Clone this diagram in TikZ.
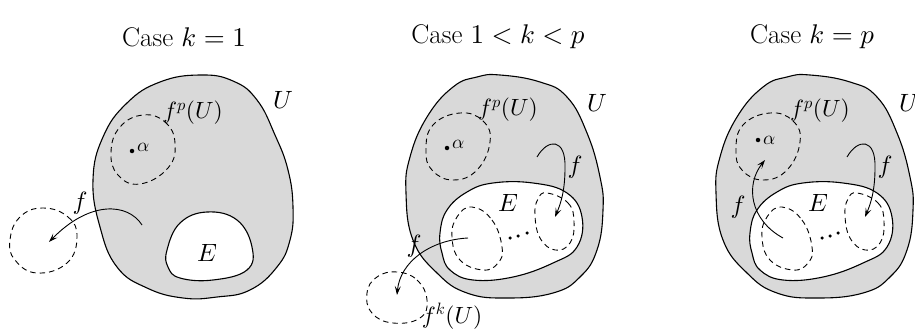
\documentclass[tikz,border=0pt]{standalone}
\usetikzlibrary{arrows.meta}
\DeclareFontShape{OML}{cmm}{m}{it}{<->cmmi10}{}
\DeclareFontShape{OT1}{cmr}{m}{n}{<->cmr10}{}
\DeclareFontShape{OMS}{cmsy}{m}{n}{<->cmsy10}{}
\DeclareFontShape{OMX}{cmex}{m}{n}{<->cmex10}{}
\definecolor{ugray}{gray}{0.85}
\begin{document}
\begin{tikzpicture}[x=1pt,y=-1pt,
  region/.style={draw=black, line width=1.1pt, fill=ugray},
  hole/.style={draw=black, line width=1.1pt, fill=white},
  dashset/.style={draw=black, line width=0.9pt, dash pattern=on 5.5pt off 4pt},
  maparrow/.style={line width=0.9pt, -{Stealth[length=9pt,width=6pt,inset=4pt]}},
  lbl/.style={inner sep=0pt, font=\fontsize{25}{29}\selectfont},
  sublbl/.style={inner sep=0pt, font=\fontsize{23.5}{27}\selectfont},
  alphalbl/.style={inner sep=0pt, font=\fontsize{19}{22}\selectfont},
  ttl/.style={inner sep=0pt, font=\fontsize{27}{31}\selectfont},
  pt/.style={circle, fill=black, inner sep=0pt, minimum size=4.5pt},
  smalldot/.style={circle, fill=black, inner sep=0pt, minimum size=3.5pt}]
\useasboundingbox (0,0) rectangle (915,334);

% ---------- titles ----------
\node[ttl] (t1) at (184,37) {Case $k=1$};
\node[ttl] (t2) at (498,37) {Case $1<k<p$};
\node[ttl] (t3) at (812,37) {Case $k=p$};

% ================= Panel 1 =================
\draw[region] plot[smooth cycle, tension=0.75] coordinates {
 (200,75) (233,81) (257,100) (275,135) (288,170) (293,207) (290,240)
 (277,267) (250,290) (217,297) (183,298) (147,288) (117,267) (100,227)
 (93,180) (103,137) (127,103) (160,82)};
\draw[hole] plot[smooth cycle, tension=0.7] coordinates {
 (180,223) (207,212) (237,220) (252,247) (247,270) (213,280) (180,278) (168,267) (167,250)};
\draw[dashset] plot[smooth cycle, tension=0.75] coordinates {
 (143,115) (165,122) (175,143) (168,168) (140,184) (118,175) (111,152) (120,127)};
\draw[dashset] plot[smooth cycle, tension=0.75] coordinates {
 (43,208) (68,217) (77,237) (67,263) (37,273) (15,260) (10,240) (20,217)};
\node[pt] (a1) at (132,151) {};
\node[alphalbl, anchor=west] (al1) at (137,147) {$\alpha$};
\node[sublbl] (fp1) at (193,113) {$f^p(U)$};
\node[lbl] (U1) at (283,100) {$U$};
\node[lbl] (E1) at (207,253) {$E$};
\node[lbl] (f1) at (80,203) {$f$};
\coordinate (s1) at (142,225);
\coordinate (e1) at (49,242);
\draw[maparrow] (s1) .. controls (128,203) and (90,200) .. (e1);

% ================= Panel 2 =================
\draw[region] plot[smooth cycle, tension=0.75] coordinates {
 (500,75) (540,82) (567,97) (587,133) (600,177) (603,210) (597,250)
 (580,277) (553,293) (507,298) (467,293) (437,273) (413,240) (406,193)
 (410,157) (427,117) (453,87) (477,77)};
\draw[hole] plot[smooth cycle, tension=0.7] coordinates {
 (440,233) (447,210) (467,192) (493,183) (533,183) (567,193) (582,217)
 (577,247) (553,263) (513,277) (473,280) (450,270) (442,253)};
\draw[dashset] plot[smooth cycle, tension=0.75] coordinates {
 (460,113) (483,121) (490,142) (477,170) (453,180) (432,170) (426,150) (433,125)};
\draw[dashset] plot[smooth cycle, tension=0.75] coordinates {
 (472,207) (492,220) (502,247) (498,263) (483,270) (460,260) (452,237) (457,217)};
\draw[dashset] plot[smooth cycle, tension=0.75] coordinates {
 (547,193) (568,203) (574,222) (570,243) (555,250) (540,238) (535,215) (538,199)};
\draw[dashset] plot[smooth cycle, tension=0.75] coordinates {
 (397,272) (417,280) (427,300) (420,318) (393,323) (372,313) (367,293) (377,277)};
\node[smalldot] (d21) at (510,238) {};
\node[smalldot] (d22) at (518,236) {};
\node[smalldot] (d23) at (527,233) {};
\node[pt] (a2) at (447,148) {};
\node[alphalbl, anchor=west] (al2) at (452,144) {$\alpha$};
\node[sublbl] (fp2) at (508,110) {$f^p(U)$};
\node[lbl] (U2) at (597,103) {$U$};
\node[lbl] (E2) at (508,203) {$E$};
\node[lbl] (f2r) at (575,167) {$f$};
\node[lbl] (f2l) at (414,246) {$f$};
\node[sublbl] (fk2) at (452,316) {$f^k(U)$};
\coordinate (s2r) at (537,157);
\coordinate (e2r) at (555,217);
\draw[maparrow] (s2r) .. controls (548,138) and (566,138) .. (565,168)
  .. controls (565,190) and (561,203) .. (e2r);
\coordinate (s2l) at (468,238);
\coordinate (e2l) at (397,295);
\draw[maparrow] (s2l) .. controls (430,240) and (400,262) .. (e2l);

% ================= Panel 3 =================
\draw[region] plot[smooth cycle, tension=0.75] coordinates {
 (810,75) (850,82) (877,97) (897,133) (910,177) (913,210) (907,250)
 (890,277) (863,293) (817,298) (777,293) (747,273) (723,240) (716,193)
 (720,157) (737,117) (763,87) (787,77)};
\draw[hole] plot[smooth cycle, tension=0.7] coordinates {
 (750,233) (757,210) (777,192) (803,183) (843,183) (877,193) (892,217)
 (887,247) (863,263) (823,277) (783,280) (760,270) (752,253)};
\draw[dashset] plot[smooth cycle, tension=0.75] coordinates {
 (770,113) (793,121) (800,142) (787,170) (763,180) (742,170) (736,150) (743,125)};
\draw[dashset] plot[smooth cycle, tension=0.75] coordinates {
 (782,207) (802,220) (812,247) (808,263) (793,270) (770,260) (762,237) (767,217)};
\draw[dashset] plot[smooth cycle, tension=0.75] coordinates {
 (857,193) (878,203) (884,222) (880,243) (865,250) (850,238) (845,215) (848,199)};
\node[smalldot] (d31) at (822,238) {};
\node[smalldot] (d32) at (830,236) {};
\node[smalldot] (d33) at (838,233) {};
\node[pt] (a3) at (758,140) {};
\node[alphalbl, anchor=west] (al3) at (763,140) {$\alpha$};
\node[sublbl] (fp3) at (820,111) {$f^p(U)$};
\node[lbl] (U3) at (909,103) {$U$};
\node[lbl] (E3) at (818,203) {$E$};
\node[lbl] (f3r) at (885,167) {$f$};
\node[lbl] (f3l) at (738,207) {$f$};
\coordinate (s3r) at (847,157);
\coordinate (e3r) at (865,217);
\draw[maparrow] (s3r) .. controls (858,138) and (876,138) .. (875,168)
  .. controls (875,190) and (871,203) .. (e3r);
\coordinate (s3l) at (783,238);
\coordinate (e3l) at (765,160);
\draw[maparrow] (s3l) .. controls (750,220) and (745,185) .. (e3l);
\end{tikzpicture}
\end{document}
